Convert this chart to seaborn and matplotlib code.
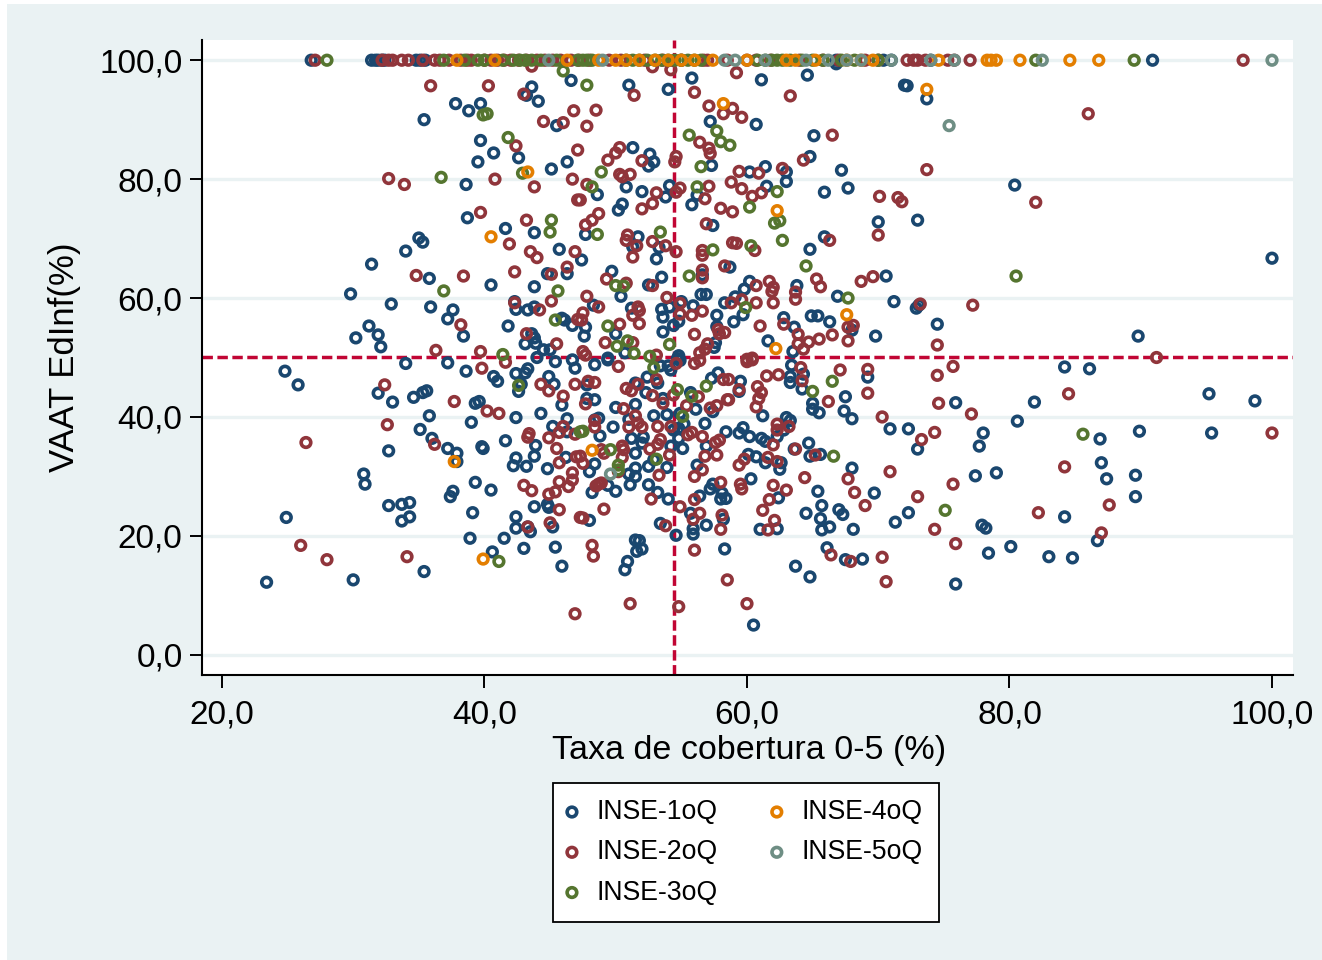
"""Taxa de cobertura 0-5 vs VAAT EdInf, scatter by INSE group."""
import matplotlib

matplotlib.use("Agg")
import matplotlib.pyplot as plt
import numpy as np
import pandas as pd
import seaborn as sns
from matplotlib.patches import Rectangle

# (taxa de cobertura, VAAT EdInf)
inse1 = [
    (46.6, 96.6), (43.6, 95.5), (43.2, 94.1), (44.1, 93.1), (37.8, 92.7), (39.7, 92.7), (38.8, 91.5), (35.4, 90.0),
    (45.5, 89.0), (39.7, 86.5), (40.7, 84.4), (42.6, 83.6), (39.5, 82.9), (46.3, 82.9), (45.1, 81.7), (38.6, 79.1),
    (38.7, 73.5), (41.6, 71.7), (43.8, 71.0), (35.0, 70.1), (35.3, 69.4), (34.0, 67.9), (31.4, 65.7), (45.7, 68.2),
    (35.8, 63.3), (40.5, 62.2), (43.8, 61.9), (44.8, 64.1), (46.3, 64.1), (29.8, 60.7), (32.9, 59.0), (35.9, 58.5),
    (37.6, 58.0), (37.2, 56.5), (31.2, 55.3), (31.9, 53.8), (30.2, 53.3), (32.1, 51.8), (42.4, 58.1), (43.3, 58.0),
    (43.8, 58.5), (42.3, 59.4), (41.8, 55.3), (38.4, 53.6), (45.9, 56.6), (46.1, 56.3), (46.7, 55.4), (43.6, 54.0),
    (43.8, 53.3), (43.1, 52.3), (43.9, 52.4), (44.5, 51.3), (45.0, 51.3),
    (51.0, 95.8), (54.0, 95.1), (55.8, 97.0), (61.1, 96.7), (64.6, 97.5), (66.8, 99.4), (72.0, 95.8), (72.2, 95.7),
    (73.7, 93.5), (57.2, 89.7), (60.7, 89.2), (65.1, 87.3), (51.3, 85.3), (52.6, 84.2), (52.9, 82.9), (52.5, 82.2),
    (57.3, 82.3), (61.4, 82.1), (60.2, 81.2), (63.0, 81.2), (63.0, 79.6), (64.8, 83.8), (67.2, 81.5), (50.8, 78.7),
    (52.0, 77.9), (54.1, 78.9), (53.8, 77.0), (56.2, 77.3), (55.8, 75.7), (61.5, 78.8), (65.9, 77.8), (67.7, 78.5),
    (48.6, 77.4), (50.5, 75.8), (50.2, 74.8), (70.0, 72.8), (73.0, 73.1), (57.4, 72.2), (47.7, 70.7), (51.7, 70.3),
    (51.3, 68.6), (53.3, 68.5), (53.1, 66.6), (65.9, 70.3), (64.8, 68.2), (58.7, 65.2), (49.7, 64.5), (47.4, 66.4),
    (53.5, 63.5), (52.5, 62.2), (56.6, 63.9), (60.2, 62.8), (63.8, 62.1), (70.6, 63.7), (59.8, 61.5), (50.4, 60.3),
    (56.5, 60.6), (56.9, 60.6), (66.9, 60.3), (71.2, 59.4), (59.1, 60.2), (58.3, 59.2), (48.3, 58.8), (51.2, 58.3),
    (55.0, 59.4), (55.9, 58.7), (54.1, 58.5), (53.5, 58.1), (53.6, 56.8), (72.9, 58.3), (73.1, 58.8), (59.7, 57.2),
    (57.7, 57.1), (62.8, 56.7), (64.9, 57.0), (65.4, 57.0), (66.3, 56.0), (59.0, 56.0), (54.8, 56.1), (54.4, 55.4),
    (74.5, 55.6), (47.7, 55.1), (47.6, 53.6), (50.0, 54.0), (53.6, 54.3), (57.7, 55.2), (63.6, 55.1), (68.0, 54.6),
    (69.8, 53.6), (61.6, 52.8), (57.6, 52.5), (57.5, 51.7), (63.5, 51.0), (50.7, 50.8), (54.8, 50.3), (54.7, 49.8),
    (54.9, 49.5), (49.4, 49.9),
    (24.8, 47.7), (25.8, 45.4), (34.0, 49.0), (37.2, 49.1), (38.6, 47.7), (40.7, 46.8), (41.0, 46.0), (42.4, 47.3),
    (43.1, 47.4), (43.3, 48.1), (44.0, 50.0), (45.4, 49.3), (46.7, 49.6), (46.9, 48.2), (44.9, 46.8), (45.3, 45.5),
    (42.8, 45.5), (42.6, 44.3), (31.9, 44.0), (33.0, 42.5), (34.6, 43.3), (35.3, 44.1), (35.6, 44.4), (39.3, 42.3),
    (39.6, 42.6), (45.9, 42.0), (35.8, 40.2), (39.0, 39.1), (42.4, 39.9), (44.3, 40.6), (46.3, 39.7), (45.2, 38.4),
    (35.1, 37.9), (36.0, 36.4), (46.3, 37.5), (41.6, 36.0), (43.9, 35.2), (32.7, 34.3), (37.2, 34.7), (37.9, 33.9),
    (37.9, 32.5), (39.8, 35.0), (39.9, 34.7), (43.8, 33.4), (42.4, 33.1), (42.2, 31.8), (43.2, 31.7), (44.8, 31.3),
    (46.2, 33.2), (30.8, 30.4), (30.9, 28.7), (39.3, 29.0), (40.5, 27.7), (37.6, 27.5), (37.4, 26.6), (32.7, 25.1),
    (33.7, 25.3), (34.3, 25.6), (34.3, 23.2), (33.7, 22.5), (24.9, 23.1), (39.1, 23.9), (43.8, 24.9), (44.8, 25.3),
    (44.9, 24.8), (42.4, 23.2), (42.4, 21.3), (43.3, 21.5), (43.5, 20.7), (45.2, 21.5), (38.9, 19.6), (41.5, 19.6),
    (43.0, 17.9), (45.4, 18.1), (40.6, 17.3), (45.9, 14.9), (35.4, 14.0), (30.0, 12.6), (23.4, 12.2),
    (48.4, 48.8), (49.4, 49.6), (52.4, 46.7), (51.5, 45.7), (52.3, 44.1), (53.4, 48.6), (54.0, 48.6), (54.2, 47.9),
    (53.2, 45.7), (47.8, 45.4), (47.8, 43.1), (48.4, 42.9), (50.0, 41.6), (51.5, 42.1), (53.6, 43.1), (52.9, 40.2),
    (53.9, 40.4), (55.7, 44.1), (56.1, 41.3), (57.4, 40.9), (57.3, 46.5), (57.8, 47.4), (59.5, 46.0), (59.4, 44.3),
    (63.4, 48.7), (63.3, 46.8), (63.3, 45.8), (64.3, 47.2), (64.2, 44.7), (67.5, 43.4), (69.2, 46.7), (65.0, 42.3),
    (65.0, 41.3), (65.5, 40.7), (67.4, 41.0), (68.0, 39.7), (61.2, 40.2), (63.0, 39.9), (63.3, 39.4), (75.9, 42.4),
    (70.9, 38.0), (72.3, 38.0), (73.0, 34.6), (48.7, 39.8), (48.4, 39.5), (51.0, 39.6), (49.8, 38.3), (48.8, 36.8),
    (51.2, 36.4), (52.1, 36.6), (52.0, 35.6), (54.9, 40.6), (55.2, 38.8), (54.8, 38.1), (54.4, 37.8), (54.8, 36.4),
    (54.2, 35.1), (55.1, 34.7), (56.9, 35.1), (56.8, 38.9), (58.4, 37.5), (59.7, 38.2), (59.4, 37.3), (60.2, 36.7),
    (61.1, 36.4), (61.4, 35.9), (62.3, 36.7), (62.8, 37.8), (51.5, 33.9), (63.6, 34.6), (64.7, 35.6), (64.8, 33.4),
    (65.6, 33.7), (60.1, 33.7), (60.7, 33.3), (61.4, 32.3), (62.6, 32.3), (62.5, 31.2), (68.0, 31.4), (56.2, 31.9),
    (48.4, 32.1), (48.0, 30.8), (51.5, 31.4), (51.5, 30.0), (51.0, 30.4), (52.5, 31.7), (52.9, 32.8), (53.9, 31.5),
    (49.4, 28.5), (51.1, 28.6), (50.0, 27.5), (48.2, 27.3), (52.5, 28.6), (53.2, 27.3), (54.0, 26.2), (60.3, 29.6),
    (57.4, 28.7), (57.2, 27.9), (56.4, 26.7), (58.1, 27.2), (58.0, 26.2), (58.4, 26.3), (62.4, 26.4), (65.4, 27.5),
    (69.7, 27.2), (65.7, 25.1), (64.5, 23.8), (67.0, 24.4), (67.3, 23.6), (65.6, 22.9), (66.3, 21.5), (65.7, 21.0),
    (68.1, 21.1), (71.3, 22.3), (72.3, 23.9), (62.3, 21.2), (61.0, 21.1), (58.2, 22.8), (56.9, 21.8), (55.7, 23.8),
    (55.9, 21.2), (55.9, 20.3), (48.0, 22.6), (53.4, 22.1), (54.6, 20.1), (51.5, 19.3), (51.8, 19.2), (51.6, 17.4),
    (52.0, 17.8), (50.9, 15.7), (50.7, 14.3), (58.3, 17.8), (66.1, 18.0), (67.5, 16.0), (68.8, 16.1), (63.7, 14.9),
    (64.8, 13.1), (75.9, 11.9), (60.5, 5.0),
    (80.4, 79.0), (100.0, 66.7), (89.8, 53.6), (84.2, 48.4), (86.1, 48.1), (95.2, 43.9), (98.7, 42.7), (81.9, 42.5),
    (80.6, 39.3), (89.9, 37.6), (95.4, 37.3), (86.9, 36.3), (87.0, 32.3), (87.4, 29.6), (89.6, 30.2), (89.6, 26.6),
    (77.4, 30.1), (79.0, 30.6), (84.2, 23.2), (77.9, 21.8), (78.2, 21.3), (78.4, 17.1), (80.1, 18.2), (83.0, 16.5),
    (84.8, 16.3), (86.7, 19.2), (78.0, 37.3), (77.7, 35.1),
]
inse2 = [
    (35.9, 95.7), (40.3, 95.7), (43.0, 94.3), (46.8, 91.5), (44.5, 89.7), (46.0, 89.5), (42.4, 85.6), (47.1, 84.9),
    (32.7, 80.1), (33.9, 79.1), (40.8, 80.0), (46.7, 80.0), (43.8, 78.7), (47.1, 76.5), (39.7, 74.4), (43.2, 73.1),
    (41.9, 69.1), (46.9, 67.8), (43.5, 67.8), (44.0, 66.8), (46.3, 65.2), (42.3, 64.4), (45.1, 64.0), (34.8, 63.8),
    (38.4, 63.7), (45.1, 59.5), (42.3, 59.2), (44.2, 58.0), (47.1, 56.4), (38.2, 55.5), (43.2, 54.0), (45.5, 52.3),
    (36.3, 51.2), (39.7, 51.0), (43.6, 99.0),
    (52.8, 98.9), (54.2, 98.4), (59.2, 97.9), (56.0, 94.6), (51.4, 94.1), (63.3, 94.0), (57.1, 92.3), (58.9, 91.9),
    (58.2, 91.0), (59.6, 90.4), (48.5, 91.6), (47.8, 88.9), (66.5, 87.4), (56.4, 86.2), (57.1, 85.2), (57.2, 84.3),
    (50.3, 85.3), (50.0, 84.4), (49.4, 83.2), (52.0, 83.1), (54.6, 83.8), (54.5, 82.9), (64.3, 83.2), (59.4, 81.3),
    (60.9, 81.0), (62.7, 81.8), (73.7, 81.6), (50.3, 80.8), (50.5, 80.4), (51.1, 80.8), (58.8, 79.5), (57.1, 78.8),
    (54.9, 78.5), (54.6, 77.8), (47.8, 79.1), (59.6, 78.4), (53.1, 77.7), (61.1, 77.7), (60.4, 77.1), (56.8, 76.7),
    (70.1, 77.1), (71.5, 76.9), (71.8, 76.2), (52.8, 75.9), (52.0, 75.0), (58.0, 75.1), (58.9, 74.5), (48.7, 74.2),
    (48.2, 73.1), (47.7, 72.3), (56.9, 72.5), (47.3, 76.5), (50.9, 70.6), (50.8, 69.7), (51.6, 68.8), (52.8, 69.5),
    (53.8, 68.8), (70.0, 70.6), (66.3, 69.7), (58.9, 69.3), (59.2, 69.2), (60.6, 68.0), (54.6, 67.8), (56.6, 68.0),
    (56.6, 67.2), (51.3, 66.9), (58.3, 65.4), (56.6, 64.7), (56.6, 63.4), (49.3, 63.2), (50.8, 62.5), (52.8, 62.1),
    (65.3, 63.2), (65.6, 61.9), (68.7, 62.8), (69.6, 63.6), (61.7, 62.8), (60.7, 62.1), (62.0, 61.8), (61.9, 61.1),
    (63.7, 61.0), (63.7, 59.8), (47.8, 60.3), (53.9, 60.1), (59.6, 59.7), (58.8, 59.2), (60.7, 59.2), (62.0, 59.2),
    (73.2, 59.0), (48.7, 58.5), (51.7, 58.5), (51.8, 57.9), (51.3, 57.1), (47.5, 57.5), (54.9, 59.1), (56.6, 57.8),
    (54.9, 57.3), (55.8, 57.1), (47.4, 56.3), (50.3, 55.6), (51.8, 55.7), (61.0, 55.3), (62.8, 55.6), (68.1, 55.4),
    (67.7, 55.1), (57.8, 54.7), (57.9, 54.0), (58.3, 54.2), (56.0, 53.9), (63.9, 53.9), (66.5, 53.8), (65.5, 53.1),
    (64.7, 52.6), (63.9, 52.3), (64.3, 51.4), (67.7, 52.8), (74.5, 52.1), (49.2, 52.5), (51.3, 52.5), (47.5, 51.0),
    (47.7, 50.4), (57.0, 52.3), (56.8, 51.4), (56.4, 50.8), (53.1, 50.4), (60.0, 49.7), (60.4, 49.9),
    (39.8, 48.2), (41.6, 49.2), (32.4, 45.4), (44.3, 45.5), (44.9, 44.4), (46.0, 43.5), (46.9, 45.5), (37.7, 42.6),
    (40.2, 41.0), (41.1, 40.6), (32.6, 38.7), (46.0, 38.4), (45.7, 37.4), (46.9, 37.1), (43.4, 37.2), (43.3, 36.6),
    (44.9, 36.5), (26.4, 35.7), (36.2, 35.4), (45.5, 34.7), (47.0, 33.3), (45.7, 32.3), (46.7, 30.6), (46.7, 29.4),
    (45.7, 29.1), (46.4, 28.3), (43.0, 28.5), (43.6, 27.6), (44.9, 27.0), (45.4, 27.4), (45.7, 24.4), (47.3, 23.1),
    (45.0, 22.2), (43.3, 21.5), (26.0, 18.4), (28.0, 16.0), (34.1, 16.5), (46.9, 6.9),
    (50.2, 48.5), (56.0, 49.0), (56.4, 49.5), (54.6, 49.0), (60.0, 49.3), (60.4, 49.6), (64.1, 48.3), (67.1, 47.9),
    (69.2, 48.0), (75.7, 48.5), (74.5, 47.0), (61.5, 46.9), (62.4, 47.1), (58.2, 46.3), (58.6, 46.3), (64.2, 46.1),
    (53.1, 46.3), (47.9, 46.0), (48.4, 45.8), (50.8, 44.8), (51.2, 44.4), (51.7, 45.5), (52.8, 43.6), (54.4, 43.7),
    (56.3, 43.4), (60.8, 45.1), (61.1, 44.1), (60.9, 43.1), (59.4, 44.6), (58.5, 42.9), (58.6, 42.9), (66.2, 42.6),
    (69.2, 44.0), (74.6, 42.3), (60.7, 41.7), (53.6, 42.3), (55.4, 41.9), (47.7, 42.2), (50.6, 41.4), (57.2, 41.5),
    (57.7, 41.9), (51.5, 40.2), (70.3, 40.0), (48.4, 39.4), (48.4, 38.3), (51.0, 38.3), (51.7, 39.0), (52.0, 38.3),
    (53.2, 38.4), (54.2, 38.4), (55.5, 37.0), (55.8, 37.4), (56.6, 36.7), (62.3, 38.8), (62.3, 37.8), (63.2, 38.4),
    (74.3, 37.4), (73.3, 36.2), (57.6, 35.7), (57.9, 36.1), (62.0, 35.3), (53.4, 36.2), (53.2, 35.4), (52.6, 34.6),
    (50.5, 35.1), (50.6, 34.5), (48.9, 34.5), (49.1, 33.9), (50.5, 33.2), (54.1, 33.6), (56.8, 33.4), (57.7, 33.6),
    (63.7, 34.6), (65.2, 33.6), (59.8, 32.9), (59.4, 31.9), (61.6, 33.2), (62.3, 32.5), (47.5, 32.2), (47.3, 33.4),
    (56.6, 31.1), (56.0, 30.0), (53.3, 30.2), (50.2, 30.8), (64.4, 29.8), (67.7, 29.6), (70.9, 30.8), (75.7, 28.7),
    (48.7, 28.7), (48.5, 28.4), (48.9, 28.9), (58.0, 29.0), (59.5, 28.7), (59.6, 27.9), (62.0, 28.5), (63.0, 27.7),
    (68.2, 27.3), (73.0, 26.6), (61.7, 26.1), (56.0, 26.1), (52.7, 26.2), (54.9, 24.9), (69.0, 25.1), (49.1, 24.5),
    (61.2, 24.3), (56.4, 23.8), (55.9, 22.8), (58.1, 23.5), (62.1, 22.6), (47.5, 23.0), (53.8, 21.7), (58.0, 21.1),
    (61.6, 21.0), (74.3, 21.1), (75.9, 18.7), (48.2, 18.4), (48.3, 16.6), (56.0, 17.6), (66.4, 16.8), (67.9, 15.7),
    (70.3, 16.4), (70.6, 12.3), (58.5, 12.6), (51.1, 8.6), (54.8, 8.1), (60.0, 8.6),
    (86.0, 91.0), (82.0, 76.1), (77.2, 58.8), (91.2, 50.0), (84.5, 43.9), (77.1, 40.5), (100.0, 37.3), (84.2, 31.6),
    (87.6, 25.2), (82.2, 23.9), (87.0, 20.5),
]
inse3 = [
    (46.0, 98.2), (39.9, 90.8), (40.2, 91.0), (41.8, 87.0), (42.9, 81.0), (36.7, 80.3), (45.1, 73.1), (45.0, 71.1),
    (36.9, 61.2), (45.6, 61.2), (45.4, 56.3), (41.4, 50.5), (47.8, 95.8), (55.6, 87.4), (57.7, 88.1), (58.0, 86.3),
    (58.7, 85.7), (56.5, 82.1), (48.9, 81.2), (56.2, 78.7), (48.2, 78.7), (62.3, 77.9), (60.2, 75.3), (62.5, 73.0),
    (62.1, 72.6), (53.4, 71.1), (48.6, 70.7), (62.7, 69.7), (60.3, 68.8), (57.4, 68.1), (64.5, 65.4), (55.6, 63.7),
    (50.0, 62.1), (50.6, 62.0), (67.7, 60.0), (59.9, 58.4), (49.4, 55.3), (54.1, 52.2), (50.1, 51.9), (50.9, 52.8),
    (51.4, 50.7), (52.6, 50.2), (42.6, 45.3), (41.1, 15.7), (47.3, 37.5), (52.9, 48.3), (56.9, 45.2), (54.7, 44.6),
    (55.8, 43.5), (66.5, 46.0), (65.0, 44.3), (55.1, 40.1), (47.5, 37.6), (49.6, 34.5), (66.6, 33.4), (53.1, 32.9),
    (50.2, 31.9), (50.2, 31.1), (75.1, 24.3), (80.5, 63.7), (85.6, 37.1),
]
inse4 = [
    (43.3, 81.2), (40.5, 70.3), (58.2, 92.7), (73.7, 95.1), (62.3, 74.7), (67.6, 57.2), (62.2, 51.5),
    (37.7, 32.5), (39.9, 16.1), (48.2, 34.4),
]
inse5 = [(75.4, 89.0), (49.6, 30.4)]

# points sitting on the 100,0 line, taxa de cobertura only
top1 = [26.8, 31.4, 31.7, 31.9, 32.2, 32.4, 34.8, 35.1, 35.5, 66.8, 70.4, 71.0, 74.0, 90.9]
top2 = [
    27.1, 32.2, 32.7, 33.0, 33.7, 34.2, 35.3, 36.2, 36.6, 37.3, 38.2, 38.7, 39.0, 40.0, 40.5, 41.0, 41.5, 42.0,
    42.6, 43.2, 44.0, 44.6, 45.2, 45.8, 46.6, 47.2, 48.0, 49.5, 50.4, 52.2, 53.6, 55.0, 56.7, 57.0, 58.5, 60.0,
    60.7, 61.8, 64.0, 65.8, 67.0, 69.0, 70.0, 72.2, 72.7, 73.0, 73.6, 75.3, 75.8, 77.0, 97.8,
]
top3 = [
    28.0, 36.9, 38.5, 39.5, 40.0, 41.4, 42.2, 42.7, 43.1, 43.6, 44.3, 45.5, 47.1, 47.5, 47.8, 48.2, 50.8, 51.3,
    51.8, 52.4, 53.0, 53.5, 54.0, 54.5, 55.0, 55.5, 56.0, 56.5, 60.8, 61.4, 61.9, 62.3, 62.7, 63.3, 64.2, 65.0,
    65.8, 67.2, 68.2, 70.0, 82.0, 89.5,
]
top4 = [
    37.9, 40.8, 46.3, 48.7, 50.0, 50.8, 51.8, 53.0, 54.0, 55.0, 56.0, 57.4, 60.0, 63.0, 63.7, 65.2, 67.6, 68.7,
    69.6, 74.6, 78.3, 78.6, 79.0, 80.8, 84.6, 86.8,
]
top5 = [44.9, 49.0, 58.3, 59.1, 61.4, 64.5, 66.2, 67.6, 68.7, 71.0, 74.0, 75.8, 82.5, 100.0]

groups = ["INSE-1oQ", "INSE-2oQ", "INSE-3oQ", "INSE-4oQ", "INSE-5oQ"]
colors = ["#1a476f", "#90353b", "#55752f", "#e37e00", "#6e8e84"]
x_ticks = [20, 40, 60, 80, 100]
x_labels = ["20,0", "40,0", "60,0", "80,0", "100,0"]
y_ticks = [0, 20, 40, 60, 80, 100]
y_labels = ["0,0", "20,0", "40,0", "60,0", "80,0", "100,0"]
ref_x = 54.42
ref_y = 50.1


def _frame(points: list[tuple], top: list[float]) -> pd.DataFrame:
    df = pd.DataFrame(points, columns=["cobertura", "vaat"])
    df_top = pd.DataFrame({"cobertura": top, "vaat": np.full(len(top), 100.0)})
    return pd.concat([df, df_top], ignore_index=True)


W, H = 1322, 960
BG = "#eaf2f3"

sns.set_theme(style="white")
plt.rcParams["font.family"] = ["Liberation Sans", "DejaVu Sans"]

fig = plt.figure(figsize=(W / 100, H / 100), dpi=100, facecolor="white")
fig.add_artist(Rectangle((7 / W, 0), (W - 7) / W, (H - 4) / H, transform=fig.transFigure, fc=BG, ec="none", zorder=-5))
ax = fig.add_axes([202 / W, 1 - 675 / H, (1293 - 202) / W, (675 - 40) / H], facecolor="white")

ax.axvline(ref_x, color="#c10534", lw=2.5, ls=(0, (3.0, 1.3)), zorder=1.5)
ax.axhline(ref_y, color="#c10534", lw=2.5, ls=(0, (3.0, 1.3)), zorder=1.5)

series = [(inse1, top1), (inse2, top2), (inse3, top3), (inse4, top4), (inse5, top5)]
for (points, top), name, col in zip(series, groups, colors, strict=True):
    sns.scatterplot(
        data=_frame(points, top), x="cobertura", y="vaat", ax=ax, marker="o", s=48,
        color=col, facecolor="none", edgecolor=col, linewidth=2.6, label=name, zorder=3, clip_on=False,
    )

ax.set_xlim(18.48, 101.6)
ax.set_ylim(-3.4, 103.4)
ax.set_xticks(x_ticks, x_labels)
ax.set_yticks(y_ticks, y_labels)
ax.grid(axis="y", color=BG, lw=2.4, zorder=1)
ax.grid(axis="x", visible=False)
ax.set_axisbelow(True)
ax.tick_params(axis="both", labelsize=24, length=9, width=1.4, color="black", labelcolor="black", bottom=True, left=True)
ax.tick_params(axis="x", pad=9)
ax.tick_params(axis="y", pad=5)
ax.set_xlabel("Taxa de cobertura 0-5 (%)", fontsize=24.5, color="black", labelpad=3, x=0.5015)
ax.set_ylabel("VAAT EdInf(%)", fontsize=25, color="black", labelpad=13)
for side in ["top", "right"]:
    ax.spines[side].set_visible(False)
for side in ["left", "bottom"]:
    ax.spines[side].set_color("black")
    ax.spines[side].set_linewidth(1.5)

leg = ax.legend(
    loc="upper left", bbox_to_anchor=(553 / W, 1 - 783 / H), bbox_transform=fig.transFigure, ncol=2,
    fontsize=19.2, frameon=True, fancybox=False, framealpha=1, edgecolor="black", facecolor="white",
    borderaxespad=0, borderpad=0.6, labelspacing=0.535, handletextpad=0.82, columnspacing=2.1, handlelength=0.22,
)
leg.get_frame().set_linewidth(1.3)
for text in leg.get_texts():
    text.set_color("black")

fig.savefig("out.png", dpi=100, facecolor=fig.get_facecolor())
